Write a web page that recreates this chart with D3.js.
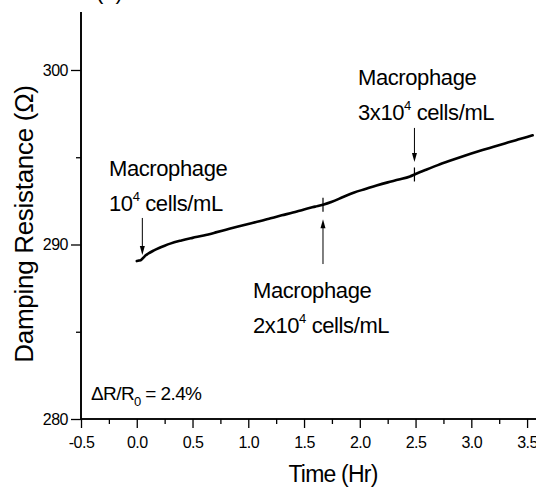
<!DOCTYPE html>
<html><head><meta charset="utf-8">
<script src="https://cdn.jsdelivr.net/npm/d3@7/dist/d3.min.js"></script>
<style>
html,body{margin:0;padding:0;background:#fff;}
svg{display:block;font-family:"Liberation Sans",Arial,sans-serif;}
</style></head>
<body>
<svg id="c" width="536" height="489"></svg>
<script>
// ---- data ----
const times = [0.00,0.02,0.04,0.06,0.08,0.10,0.15,0.20,0.25,0.30,0.40,0.50,0.60,0.70,0.80,0.90,1.00,1.10,1.20,1.30,1.40,1.50,1.60,1.67,1.75,1.85,1.95,2.05,2.15,2.25,2.35,2.45,2.50,2.60,2.70,2.80,2.90,3.00,3.10,3.20,3.30,3.40,3.50,3.55];
const resistance = [289.05,289.08,289.12,289.25,289.38,289.47,289.65,289.80,289.93,290.05,290.23,290.38,290.52,290.68,290.85,291.02,291.18,291.33,291.50,291.67,291.83,292.01,292.17,292.28,292.45,292.72,292.98,293.18,293.38,293.56,293.72,293.90,294.04,294.30,294.55,294.78,295.00,295.21,295.41,295.60,295.79,295.98,296.16,296.26];
const xMajorTicks = [-0.5,0.0,0.5,1.0,1.5,2.0,2.5,3.0,3.5];
const xMinorTicks = [-0.25,0.25,0.75,1.25,1.75,2.25,2.75,3.25];
const yMajorTicks = [280,290,300];
const yMinorTicks = [285,295];
// additions: time, arrow start value, arrow tip value
const addTimes = [0.05,1.67,2.49];
const arrowFrom = [291.52,288.88,296.68];
const arrowTo = [289.40,291.45,294.73];
const addPrefix = ["","2x","3x"];
const stepMarks = [1.67,2.49];

const svg = d3.select("#c");
const x = d3.scaleLinear().domain([-0.5,3.58]).range([81,536]);
const y = d3.scaleLinear().domain([280,303.3]).range([419,12.4]);

const font = '"Liberation Sans",Arial,sans-serif';
const fmt1 = d => d.toFixed(1);

// axes
const gx = svg.append("g").attr("transform","translate(0,419)");
gx.call(d3.axisBottom(x).tickValues(xMajorTicks).tickSize(9).tickPadding(8).tickFormat(fmt1));
gx.append("g").call(d3.axisBottom(x).tickValues(xMinorTicks).tickSize(5).tickFormat(""));
const gy = svg.append("g").attr("transform","translate(81,0)");
gy.call(d3.axisLeft(y).tickValues(yMajorTicks).tickSize(10).tickPadding(3).tickFormat(d=>String(d)));
gy.append("g").call(d3.axisLeft(y).tickValues(yMinorTicks).tickSize(5).tickFormat(""));
svg.selectAll(".domain").attr("stroke","#000").attr("stroke-width",1.6);
svg.selectAll(".tick line").attr("stroke","#000").attr("stroke-width",1.3);
svg.selectAll(".tick text").attr("font-family",font).attr("font-size",16).attr("fill","#000").attr("letter-spacing",-0.5);
gx.selectAll(".tick text").attr("dy","0.75em");
gy.selectAll("path.domain").attr("d","M0,419V12");
gx.selectAll("path.domain").attr("d","M81,0H536");

// curve
const pts = times.map((t,i)=>[t,resistance[i]]);
svg.append("path").datum(pts)
  .attr("fill","none").attr("stroke","#000").attr("stroke-width",2.6)
  .attr("stroke-linejoin","round").attr("stroke-linecap","round")
  .attr("d",d3.line().x(d=>x(d[0])).y(d=>y(d[1])).curve(d3.curveMonotoneX));

// step marks
const interp = t => { const i = d3.bisectLeft(times,t); if(i<=0) return resistance[0]; const t0=times[i-1],t1=times[i]; return resistance[i-1]+(resistance[i]-resistance[i-1])*(t-t0)/(t1-t0); };
stepMarks.forEach(t=>{
  svg.append("line").attr("x1",x(t)).attr("x2",x(t)).attr("y1",y(interp(t))-7).attr("y2",y(interp(t))+7)
    .attr("stroke","#000").attr("stroke-width",1.2);
});

// arrows
addTimes.forEach((t,i)=>{
  const xx = x(t), y0 = y(arrowFrom[i]), y1 = y(arrowTo[i]);
  const dir = Math.sign(y1-y0);
  svg.append("line").attr("x1",xx).attr("x2",xx).attr("y1",y0).attr("y2",y1-dir*6)
    .attr("stroke","#000").attr("stroke-width",1);
  svg.append("path").attr("d",`M${xx-2.5},${y1-dir*9}L${xx+2.5},${y1-dir*9}L${xx},${y1}Z`).attr("fill","#000");
});

// annotation text
function label(px,py,pre){
  svg.append("text").attr("x",px).attr("y",py).attr("font-family",font).attr("font-size",22).attr("letter-spacing",-0.4).attr("fill","#000").text("Macrophage");
  const t2 = svg.append("text").attr("x",px).attr("y",py+35).attr("font-family",font).attr("font-size",22).attr("letter-spacing",-0.4).attr("fill","#000");
  t2.append("tspan").text(pre+"10");
  t2.append("tspan").attr("font-size",13).attr("dy",-10).text("4");
  t2.append("tspan").attr("dy",10).text(" cells/mL");
}
label(109,176,addPrefix[0]);
label(253,298,addPrefix[1]);
label(358,85,addPrefix[2]);

// delta R text
const dt = svg.append("text").attr("x",91).attr("y",400).attr("font-family",font).attr("font-size",19).attr("letter-spacing",-0.6).attr("fill","#000");
dt.append("tspan").text("\u0394R/R");
dt.append("tspan").attr("font-size",13).attr("dy",6).text("0");
dt.append("tspan").attr("dy",-6).text(" = 2.4%");

// axis titles
svg.append("text").attr("x",333).attr("y",482).attr("text-anchor","middle").attr("font-family",font).attr("font-size",23).attr("letter-spacing",-0.8).attr("fill","#000").text("Time (Hr)");
svg.append("text").attr("transform","translate(33,224) rotate(-90)").attr("text-anchor","middle").attr("font-family",font).attr("font-size",26).attr("letter-spacing",-0.3).attr("fill","#000").text("Damping Resistance (\u03A9)");

// panel label clipped at top (as in the reference)
svg.append("text").attr("x",96).attr("y",-1).attr("font-family",font).attr("font-size",22).attr("fill","#000").text("(a)");
</script>
</body></html>
